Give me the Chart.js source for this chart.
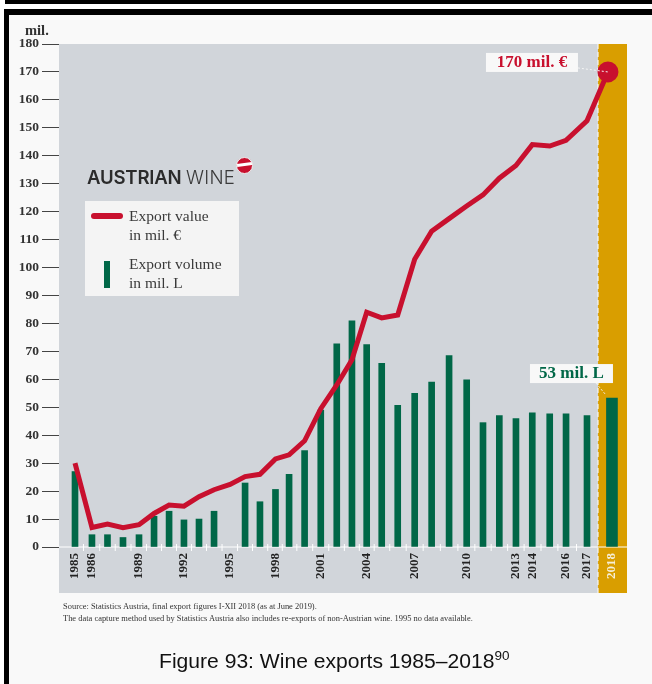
<!DOCTYPE html>
<html>
<head>
<meta charset="utf-8">
<script src="https://cdn.jsdelivr.net/npm/chart.js@4/dist/chart.umd.min.js"></script>
<style>
    html, body { margin: 0; padding: 0; background: #fff; }
    #page { position: relative; width: 652px; height: 684px; overflow: hidden; background: #fff; }
    #page div, #page span { position: absolute; white-space: nowrap; }
    #page canvas { position: absolute; left: 0; top: 0; }
    .serif { font-family: "Liberation Serif", serif; color: #3a3a3a; }
    .note { font-size: 8.45px; color: #333; left: 63px; }
    .leg { font-size: 15.5px; left: 129px; line-height: 18px; }
</style>
</head>
<body>
<div id="page">
    <div style="left:5px;top:0;width:647px;height:4px;background:#000"></div>
    <div style="left:4px;top:9px;width:648px;height:6px;background:#000"></div>
    <div style="left:4px;top:9px;width:5px;height:675px;background:#000"></div>
    <div style="left:9px;top:15px;width:643px;height:669px;background:#f9f9f9"></div>
    <canvas id="chart" width="652" height="684"></canvas>

    <div class="serif" style="left:25px;top:22px;font-size:14.5px;font-weight:bold;color:#333">mil.</div>

    <!-- logo and legend -->
    <div style="left:87px;top:166px;font-family:Inter,sans-serif;font-size:18.6px;font-weight:600;color:#2b2b2b;letter-spacing:-0.2px">AUSTRIAN</div>
    <div style="left:186px;top:166px;font-family:Inter,sans-serif;font-size:18.6px;font-weight:300;color:#3a3a3a;letter-spacing:0.3px">WINE</div>
    <div style="left:236px;top:157px;width:15px;height:15px;border-radius:50%;background:#c8102e;border:1px solid #eee"></div>
    <div style="left:237px;top:163px;width:15px;height:3px;background:#fff;transform:rotate(-8deg)"></div>

    <div style="left:85px;top:201px;width:154px;height:95px;background:#f4f4f4"></div>
    <div style="left:91px;top:213px;width:32px;height:6px;border-radius:3px;background:#c8102e"></div>
    <div style="left:104px;top:261px;width:6px;height:27px;background:#006747"></div>
    <div class="serif leg" style="top:207px">Export value</div>
    <div class="serif leg" style="top:226px">in mil. €</div>
    <div class="serif leg" style="top:255px">Export volume</div>
    <div class="serif leg" style="top:274px">in mil. L</div>

    <!-- notes and caption -->
    <div class="serif note" style="top:601px">Source: Statistics Austria, final export figures I-XII 2018 (as at June 2019).</div>
    <div class="serif note" style="top:613px">The data capture method used by Statistics Austria also includes re-exports of non-Austrian wine. 1995 no data available.</div>
    <div style="left:159px;top:649px;font-family:'Liberation Sans',sans-serif;font-size:21.1px;color:#111">Figure 93: Wine exports 1985–2018<sup style="font-size:13.5px;line-height:0">90</sup></div>
</div>

<script>
// Years of the series
const years = [1985, 1986, 1987, 1988, 1989, 1990, 1991, 1992, 1993, 1994, 1995, 1996,
    1997, 1998, 1999, 2000, 2001, 2002, 2003, 2004, 2005, 2006, 2007, 2008, 2009,
    2010, 2011, 2012, 2013, 2014, 2015, 2016, 2017, 2018];

// The source axis is not evenly spaced, so each year has its own place on the x scale
const axisSlots = [1985, 1986.06, 1987.03, 1988, 1989, 1989.94, 1990.88, 1991.81, 1992.75, 1993.69,
    1994.69, 1995.63, 1996.56, 1997.53, 1998.38, 1999.35, 2000.36, 2001.36, 2002.31, 2003.23,
    2004.17, 2005.17, 2006.23, 2007.29, 2008.38, 2009.48, 2010.5, 2011.52, 2012.56, 2013.58,
    2014.67, 2015.69, 2017, 2018.56];

// Export value in mil. EUR
const exportValue = [30, 7, 8.2, 6.9, 8, 12, 15, 14.6, 18, 20.5, 22.4, 25.2, 26, 31.5, 33, 38,
    49.5, 58, 67, 84, 82, 83, 103, 113, 117.5, 122, 126, 132, 136.5, 144, 143.5, 145.5, 152.5, 170];

// Export volume in mil. L (1995 has no data)
const exportVolume = [27, 4.4, 4.4, 3.4, 4.4, 11, 12.8, 9.7, 10, 12.8, null, 22.9, 16.2, 20.6, 26, 34.5,
    49, 72.7, 80.9, 72.4, 65.7, 50.7, 55, 59, 68.5, 59.8, 44.5, 47, 46, 48, 47.7, 47.7, 47, 53.3];

const labelledYears = [1985, 1986, 1989, 1992, 1995, 1998, 2001, 2004, 2007, 2010, 2013, 2014, 2016, 2017, 2018];

const lastYear = 2018;
const lastValueSlot = 2018.31;  // the red end dot sits a little left of the 2018 bar
const highlightStart = 2017.69; // where the gold band begins on the x scale

const RED = '#c8102e';
const GREEN = '#006747';
const GOLD = '#d99e00';
const GREY = '#d1d5da';

const slotOf = (year) => axisSlots[years.indexOf(year)];

const volumePoints = years.map((y, i) => ({ x: axisSlots[i], y: exportVolume[i] })).filter(p => p.y !== null);
const valuePoints = years.map((y, i) => ({ x: y === lastYear ? lastValueSlot : axisSlots[i], y: exportValue[i] }));

// Paints the grey and gold bands, the white base line and the dashed divider
const backdrop = {
    id: 'backdrop',
    beforeDraw(chart) {
        const { ctx, chartArea: a, scales: { x, y } } = chart;
        const split = x.getPixelForValue(highlightStart);
        const bottom = a.bottom + 46;
        const zero = y.getPixelForValue(0);
        ctx.save();
        ctx.fillStyle = GREY;
        ctx.fillRect(a.left, a.top, split - a.left, bottom - a.top);
        ctx.fillStyle = GOLD;
        ctx.fillRect(split, a.top, a.right - split, bottom - a.top);
        ctx.strokeStyle = '#fff';
        ctx.lineWidth = 1;
        ctx.beginPath();
        ctx.moveTo(a.left, zero);
        ctx.lineTo(a.right, zero);
        for (let i = 1; i < axisSlots.length - 1; i++) {
            const mid = x.getPixelForValue((axisSlots[i - 1] + axisSlots[i]) / 2);
            ctx.moveTo(mid, zero - 3);
            ctx.lineTo(mid, zero + 4);
        }
        ctx.stroke();
        ctx.setLineDash([5, 3]);
        ctx.beginPath();
        ctx.moveTo(split, a.top);
        ctx.lineTo(split, bottom);
        ctx.stroke();
        ctx.restore();
    }
};

// Draws the two value call-outs next to the 2018 marks
const callouts = {
    id: 'callouts',
    afterDatasetsDraw(chart) {
        const { ctx, scales: { x, y } } = chart;
        const px = x.getPixelForValue(slotOf(lastYear));
        const valueY = y.getPixelForValue(exportValue[exportValue.length - 1]);
        const volumeY = y.getPixelForValue(exportVolume[exportVolume.length - 1]);

        const box = (left, top, w, h, text, color) => {
            ctx.fillStyle = '#f8f8f8';
            ctx.fillRect(left, top, w, h);
            ctx.fillStyle = color;
            ctx.font = 'bold 17px "Liberation Serif", serif';
            ctx.textAlign = 'center';
            ctx.textBaseline = 'middle';
            ctx.fillText(text, left + w / 2, top + h / 2 + 0.5);
        };

        ctx.save();
        ctx.strokeStyle = '#f4f4f4';
        ctx.lineWidth = 1;
        ctx.setLineDash([2, 2]);
        ctx.beginPath();
        ctx.moveTo(px - 34, valueY - 4);
        ctx.lineTo(px - 4, valueY);
        ctx.moveTo(px - 16, volumeY - 15);
        ctx.lineTo(px - 6, volumeY - 3);
        ctx.stroke();
        ctx.setLineDash([]);
        box(px - 126, valueY - 19, 92, 19, '170 mil. €', RED);
        box(px - 82, volumeY - 34, 83, 19, '53 mil. L', GREEN);
        ctx.restore();
    }
};

new Chart(document.getElementById('chart').getContext('2d'), {
    type: 'bar',
    data: {
        datasets: [
            {
                type: 'line',
                label: 'Export value in mil. €',
                data: valuePoints,
                borderColor: RED,
                backgroundColor: RED,
                borderWidth: 5,
                tension: 0,
                pointRadius: (c) => c.dataIndex === years.length - 1 ? 8 : 0,
                order: 1
            },
            {
                label: 'Export volume in mil. L',
                data: volumePoints.slice(0, -1),
                backgroundColor: GREEN,
                barThickness: 6,
                order: 2
            },
            {
                label: '2018',
                data: volumePoints.slice(-1),
                backgroundColor: GREEN,
                barThickness: 11,
                order: 2
            }
        ]
    },
    options: {
        responsive: false,
        animation: false,
        layout: { padding: { top: 44, right: 25, left: 0, bottom: 0 } },
        plugins: { legend: { display: false }, tooltip: { enabled: false } },
        datasets: { bar: { grouped: false } },
        scales: {
            x: {
                type: 'linear',
                offset: false,
                min: 1984,
                max: 2019.5,
                afterFit: (s) => { s.height = 137; },
                afterBuildTicks: (s) => { s.ticks = labelledYears.map(y => ({ value: slotOf(y) })); },
                border: { display: false },
                grid: { display: false, drawTicks: false },
                ticks: {
                    autoSkip: false,
                    minRotation: 90,
                    maxRotation: 90,
                    padding: 6,
                    color: (c) => c.tick.value === slotOf(lastYear) ? '#f6efd8' : '#222',
                    font: { family: '"Liberation Serif", serif', size: 13, weight: 'bold' },
                    callback: (v) => years[axisSlots.indexOf(v)]
                }
            },
            y: {
                min: 0,
                max: 180,
                afterFit: (s) => { s.width = 59; },
                border: { display: false },
                grid: { drawOnChartArea: false, color: '#444', lineWidth: 1, tickLength: 17 },
                ticks: {
                    stepSize: 10,
                    padding: 3,
                    color: '#333',
                    font: { family: '"Liberation Serif", serif', size: 13.5, weight: 'bold' }
                }
            }
        }
    },
    plugins: [backdrop, callouts]
});
</script>
</body>
</html>
